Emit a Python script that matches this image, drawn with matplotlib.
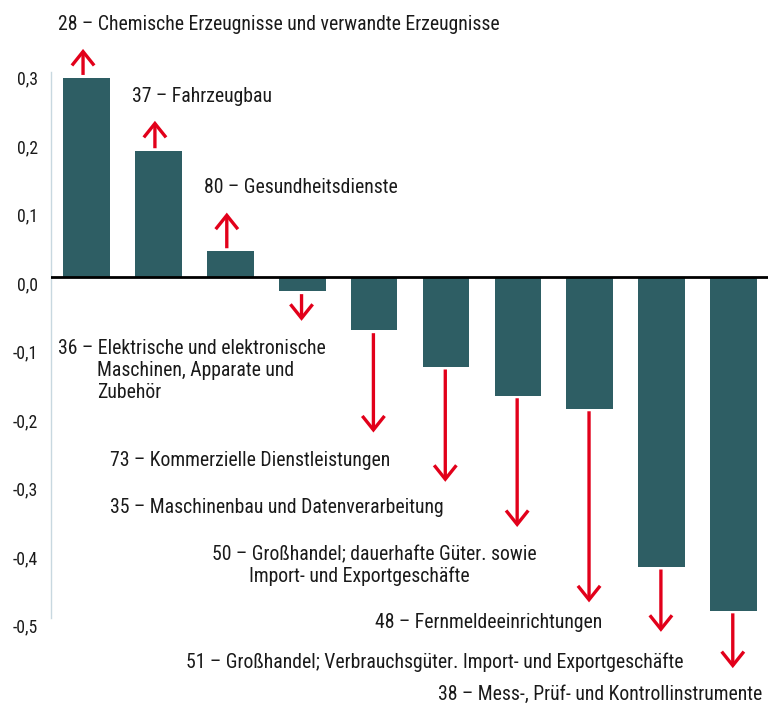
import matplotlib.pyplot as plt
import matplotlib.transforms as mtransforms
from matplotlib import font_manager as fm

# pick a condensed sans if one is installed
fonts = fm.fontManager.ttflist
narrow = [f.name for f in fonts
          if 'Narrow' in f.name or 'Condensed' in f.name
          or str(f.stretch) in ('condensed', 'semi-condensed', 'extra-condensed')]
family = 'DejaVu Sans'
for cand in ['Liberation Sans Narrow', 'Roboto Condensed', 'Open Sans Condensed',
             'Noto Sans Condensed', 'DejaVu Sans Condensed', 'Noto Sans', 'Roboto',
             'Open Sans', 'DejaVu Sans']:
    if cand in narrow:
        family = cand
        break
plt.rcParams['font.family'] = [family, 'DejaVu Sans']
plt.rcParams['font.stretch'] = 'condensed'

# Veränderung je Wirtschaftszweig
values = [0.291, 0.184, 0.038, -0.021, -0.078, -0.131, -0.173, -0.192, -0.423, -0.487]
labels = [
    '28 – Chemische Erzeugnisse und verwandte Erzeugnisse',
    '37 – Fahrzeugbau',
    '80 – Gesundheitsdienste',
    '36 – Elektrische und elektronische',
    '73 – Kommerzielle Dienstleistungen',
    '35 – Maschinenbau und Datenverarbeitung',
    '50 – Großhandel; dauerhafte Güter. sowie',
    '48 – Fernmeldeeinrichtungen',
    '51 – Großhandel; Verbrauchsgüter. Import- und Exportgeschäfte',
    '38 – Mess-, Prüf- und Kontrollinstrumente',
]
yticks = [0.3, 0.2, 0.1, 0.0, -0.1, -0.2, -0.3, -0.4, -0.5]
ytick_labels = ['0,3', '0,2', '0,1', '0,0', '-0,1', '-0,2', '-0,3', '-0,4', '-0,5']

# layout: arrow tips and label anchors (data coords)
arrow_tips = [0.333, 0.228, 0.094, -0.064, -0.227, -0.299, -0.365, -0.475, -0.518, -0.571]
label_pos = [(-0.40, 0.369), (0.626, 0.263), (1.633, 0.130), (-0.40, -0.105),
             (0.324, -0.268), (0.324, -0.337), (1.740, -0.406), (4.013, -0.505),
             (1.378, -0.562), (4.889, -0.610)]
extra_lines = [(0.143, -0.136, 'Maschinen, Apparate und'),
               (0.143, -0.169, 'Zubehör'),
               (2.259, -0.4375, 'Import- und Exportgeschäfte')]

bar_color = '#2e5e64'
red = '#e2001a'
text_color = '#1a1a1a'

fig = plt.figure(figsize=(7.68, 7.05), dpi=100)
ax = fig.add_axes([50.7 / 768, 0, 1 - 50.7 / 768, 1])

x = list(range(len(values)))
ax.bar(x, values, width=0.65, color=bar_color, zorder=2)
ax.axhline(0, color='black', lw=2, zorder=3)

for i, v in enumerate(values):
    gap = 0.004 if v > 0 else -0.004
    xa = i - 0.05 if v > 0 else i - 0.01
    ax.annotate('', xy=(xa, arrow_tips[i]), xytext=(xa, v + gap),
                arrowprops=dict(arrowstyle='->,head_length=0.5,head_width=0.4',
                                mutation_scale=20, color=red, lw=2.4,
                                shrinkA=0, shrinkB=0, joinstyle='miter',
                                capstyle='butt'),
                annotation_clip=False)

texts = []
for (lx, ly), txt in zip(label_pos, labels):
    texts.append(ax.text(lx, ly, txt, fontsize=14.5, va='center', ha='left', color=text_color))
for lx, ly, txt in extra_lines:
    texts.append(ax.text(lx, ly, txt, fontsize=14.5, va='center', ha='left', color=text_color))

ax.set_xlim(-0.5, 9.48)
ax.set_ylim(-0.6248, 0.4044)
ax.set_xticks([])
ax.set_yticks(yticks)
ax.set_yticklabels(ytick_labels, fontsize=13, color=text_color)
ax.tick_params(axis='y', length=0, pad=9)

for s in ['top', 'right', 'bottom']:
    ax.spines[s].set_visible(False)
ax.spines['left'].set_color('#c8d8e0')
ax.spines['left'].set_linewidth(1)
ax.spines['left'].set_bounds(-0.498, 0.299)

# fit the text size so the longest top label is as wide as in the reference (440 px)
fig.canvas.draw()
w = texts[0].get_window_extent().width
scale = min(1.0, 440 / w)
for t in texts:
    t.set_fontsize(14.5 * scale)
offset = mtransforms.ScaledTranslation(0, -6 / 100, fig.dpi_scale_trans)
for lbl in ax.get_yticklabels():
    lbl.set_fontsize(13 * max(scale, 0.85))
    lbl.set_transform(lbl.get_transform() + offset)

fig.savefig('out.png', dpi=100)
